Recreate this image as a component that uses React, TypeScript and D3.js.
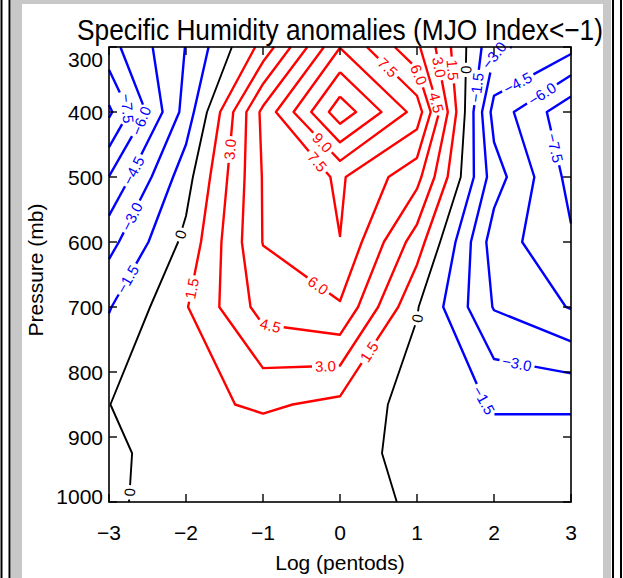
import React, { useMemo } from 'react';
import * as d3 from 'd3';

// ---------------- data ----------------
const xValues = [-3, -2, -1, 0, 1, 2, 3];
const pressureLevels = [300, 400, 500, 600, 700, 850, 925, 1000];
const q300 = [-6.53, -2.95, 2.0, 8.95, 4.8, -2.7, -4.0];
const q400 = [-9.3, -2.4, 6.4, 12.95, 8.4, -5.1, -8.6];
const q500 = [-5.97, -0.6, 6.1, 7.7, 5.0, -3.8, -8.0];
const q600 = [-3.5, 0.4, 6.05, 7.48, 2.25, -5.25, -7.3];
const q700 = [-1.6, 1.4, 5.1, 5.85, 0.1, -4.6, -6.1];
const q850 = [-0.02, 1.06, 1.75, 1.1, -0.67, -1.6, -1.55];
const q925 = [-0.3, 0.7, 0.4, 0.9, -0.75, -1.1, -1.3];
const q1000 = [-0.26, 0.74, 0.5, 0.9, -0.32, -1.0, -1.2];
const contourLevels = [-9, -7.5, -6, -4.5, -3, -1.5, 0, 1.5, 3, 4.5, 6, 7.5, 9, 10.5, 12];
const xTicks = [-3, -2, -1, 0, 1, 2, 3];
const yTicks = [300, 400, 500, 600, 700, 800, 900, 1000];
// contour label anchors (level, lag, pressure)
const labelLevels = [-7.5, -6, -4.5, -3, -1.5, 0, 0, 3, 1.5, 9, 7.5, 6, 4.5, 3, 1.5, 7.5, 6, 3, 4.5, 1.5, 0, -1.5, -3, -4.5, -6, -7.5, -3, -1.5, 0];
const labelX = [-2.66, -2.56, -2.7, -2.75, -2.79, -2.17, -2.75, -1.39, -1.95, -0.29, -0.39, -0.29, -0.9, -0.19, 0.48, 0.69, 1.04, 1.29, 1.27, 1.5, 1.58, 1.75, 1.95, 2.23, 2.53, 2.69, 2.3, 1.88, 0.97];
const labelP = [389, 415, 489, 558, 655, 585, 985, 458, 671, 454, 486, 668, 725, 788, 777, 323, 342, 331, 385, 335, 335, 362, 309, 338, 355, 458, 786, 843, 717];

const TITLE = 'Specific Humidity anomalies (MJO Index<\u22121)';
const FONT = '"Liberation Sans", Arial, sans-serif';

type Pt = [number, number];

function marching(grid: number[][], level: number): Pt[][] {
  const nx = xValues.length, ny = pressureLevels.length;
  const pts = new Map<string, Pt>();
  const segs: [string, string][] = [];
  const adj = new Map<string, number[]>();
  const above = (v: number) => v >= level;
  const addSeg = (a: string, b: string) => {
    const id = segs.length;
    segs.push([a, b]);
    if (!adj.has(a)) adj.set(a, []);
    if (!adj.has(b)) adj.set(b, []);
    adj.get(a)!.push(id);
    adj.get(b)!.push(id);
  };
  for (let j = 0; j < ny - 1; j++) {
    for (let i = 0; i < nx - 1; i++) {
      const edges: string[] = [];
      const check = (key: string, i1: number, j1: number, i2: number, j2: number) => {
        const v1 = grid[j1][i1], v2 = grid[j2][i2];
        if (above(v1) !== above(v2)) {
          if (!pts.has(key)) {
            const t = (level - v1) / (v2 - v1);
            pts.set(key, [
              xValues[i1] + t * (xValues[i2] - xValues[i1]),
              pressureLevels[j1] + t * (pressureLevels[j2] - pressureLevels[j1]),
            ]);
          }
          edges.push(key);
        }
      };
      check(`h${i},${j}`, i, j, i + 1, j);
      check(`v${i + 1},${j}`, i + 1, j, i + 1, j + 1);
      check(`h${i},${j + 1}`, i, j + 1, i + 1, j + 1);
      check(`v${i},${j}`, i, j, i, j + 1);
      if (edges.length === 2) addSeg(edges[0], edges[1]);
      else if (edges.length === 4) {
        const va = grid[j][i], vb = grid[j][i + 1], vc = grid[j + 1][i + 1], vd = grid[j + 1][i];
        const c = (va + vb + vc + vd) / 4;
        if (above(c) === above(va)) {
          addSeg(edges[0], edges[1]);
          addSeg(edges[2], edges[3]);
        } else {
          addSeg(edges[0], edges[3]);
          addSeg(edges[1], edges[2]);
        }
      }
    }
  }
  const used = segs.map(() => false);
  const walk = (start: string) => {
    const keys = [start];
    let cur = start;
    for (;;) {
      const s = (adj.get(cur) || []).find((id) => !used[id]);
      if (s === undefined) break;
      used[s] = true;
      const [a, b] = segs[s];
      cur = a === cur ? b : a;
      keys.push(cur);
    }
    return keys;
  };
  const lines: Pt[][] = [];
  adj.forEach((ids, key) => {
    if (ids.length === 1 && !used[ids[0]]) lines.push(walk(key).map((k) => pts.get(k)!));
  });
  segs.forEach((s, id) => {
    if (!used[id]) lines.push(walk(s[0]).map((k) => pts.get(k)!));
  });
  return lines;
}

function cumLen(poly: Pt[]) {
  const c = [0];
  for (let k = 1; k < poly.length; k++) {
    c.push(c[k - 1] + Math.hypot(poly[k][0] - poly[k - 1][0], poly[k][1] - poly[k - 1][1]));
  }
  return c;
}
function pointAt(poly: Pt[], cum: number[], s: number): Pt {
  if (s <= 0) return poly[0];
  for (let k = 1; k < poly.length; k++) {
    if (cum[k] >= s) {
      const L = cum[k] - cum[k - 1] || 1;
      const t = (s - cum[k - 1]) / L;
      return [poly[k - 1][0] + t * (poly[k][0] - poly[k - 1][0]), poly[k - 1][1] + t * (poly[k][1] - poly[k - 1][1])];
    }
  }
  return poly[poly.length - 1];
}
function subPoly(poly: Pt[], cum: number[], a: number, b: number): Pt[] {
  const out: Pt[] = [pointAt(poly, cum, a)];
  for (let k = 0; k < poly.length; k++) if (cum[k] > a && cum[k] < b) out.push(poly[k]);
  out.push(pointAt(poly, cum, b));
  return out;
}
function textWidth(t: string, fs: number) {
  let w = 0;
  for (const ch of t) w += ch === '.' ? 0.278 : ch === '\u2212' ? 0.584 : 0.556;
  return w * fs;
}
const fmt = (v: number) => (v === 0 ? '0' : (v < 0 ? '\u2212' : '') + Math.abs(v).toFixed(1));

export default function App() {
  const W = 623, H = 578;
  const x = d3.scaleLinear().domain([-3, 3]).range([109, 571]);
  const y = d3.scaleLinear().domain([300, 1000]).range([47, 502]);
  const grid = [q300, q400, q500, q600, q700, q850, q925, q1000];
  const LFS = 15;

  const { paths, labels } = useMemo(() => {
    const lineGen = d3.line<Pt>().x((d) => d[0]).y((d) => d[1]);
    const paths: { d: string; color: string; w: number }[] = [];
    const labels: { x: number; y: number; a: number; t: string; color: string }[] = [];
    contourLevels.forEach((lv) => {
      const color = lv < 0 ? '#0000ff' : lv > 0 ? '#ff0000' : '#000000';
      const polys = marching(grid, lv).map((pl) => pl.map((p) => [x(p[0]), y(p[1])] as Pt));
      const cums = polys.map(cumLen);
      const gaps: [number, number][][] = polys.map(() => []);
      labelLevels.forEach((ll, li) => {
        if (ll !== lv) return;
        const ax = x(labelX[li]), ay = y(labelP[li]);
        let best = { d: Infinity, pi: -1, s: 0 };
        polys.forEach((pl, pi) => {
          for (let k = 1; k < pl.length; k++) {
            const [x0, y0] = pl[k - 1], [x1, y1] = pl[k];
            const dx = x1 - x0, dy = y1 - y0;
            const L2 = dx * dx + dy * dy || 1;
            let t = ((ax - x0) * dx + (ay - y0) * dy) / L2;
            t = Math.max(0, Math.min(1, t));
            const px = x0 + t * dx, py = y0 + t * dy;
            const dd = Math.hypot(px - ax, py - ay);
            if (dd < best.d) best = { d: dd, pi, s: cums[pi][k - 1] + t * Math.sqrt(L2) };
          }
        });
        if (best.pi < 0) return;
        const pl = polys[best.pi], cum = cums[best.pi];
        const txt = fmt(lv);
        const w = textWidth(txt, LFS);
        const total = cum[cum.length - 1];
        const s = Math.max(w / 2 + 1, Math.min(total - w / 2 - 1, best.s));
        const p0 = pointAt(pl, cum, s - w / 2), p1 = pointAt(pl, cum, s + w / 2);
        const c = pointAt(pl, cum, s);
        let ang = (Math.atan2(p1[1] - p0[1], p1[0] - p0[0]) * 180) / Math.PI;
        if (ang > 90) ang -= 180;
        if (ang < -90) ang += 180;
        gaps[best.pi].push([s - w / 2 - 3, s + w / 2 + 3]);
        labels.push({ x: c[0], y: c[1], a: ang, t: txt, color });
      });
      polys.forEach((pl, pi) => {
        const cum = cums[pi];
        const total = cum[cum.length - 1];
        const g = gaps[pi].sort((a, b) => a[0] - b[0]);
        let start = 0;
        const pieces: Pt[][] = [];
        g.forEach(([a, b]) => {
          if (a > start) pieces.push(subPoly(pl, cum, start, a));
          start = Math.max(start, b);
        });
        if (start < total) pieces.push(subPoly(pl, cum, start, total));
        pieces.forEach((pc) => paths.push({ d: lineGen(pc) || '', color, w: lv === 0 ? 1.9 : 2.4 }));
      });
    });
    return { paths, labels };
  }, []);

  const x0 = x(-3), x1 = x(3), y0 = y(300), y1 = y(1000);
  return (
    <svg width={W} height={H} style={{ position: 'absolute', left: 0, top: 0 }} fontFamily={FONT}>
      <rect x={0} y={0} width={W} height={H} fill="#ffffff" />
      <rect x={11} y={0} width={600} height={H} fill="#c8c8c8" />
      <rect x={22} y={4} width={581} height={H - 4} fill="#ffffff" />
      <rect x={0.5} y={0} width={2} height={H} fill="#000" />
      <rect x={8.5} y={0} width={2} height={H} fill="#000" />
      <rect x={612} y={0} width={2} height={H} fill="#000" />
      <rect x={620} y={0} width={2} height={H} fill="#000" />

      <text transform="translate(340,40) scale(1,1.13)" x={0} y={0} fontSize={26.3} textAnchor="middle" fill="#000">
        {TITLE}
      </text>

      <g fill="none" strokeLinejoin="round" strokeLinecap="butt">
        {paths.map((p, i) => (
          <path key={i} d={p.d} stroke={p.color} strokeWidth={p.w} />
        ))}
      </g>
      <g fontSize={LFS}>
        {labels.map((l, i) => (
          <text key={i} x={0} y={0} transform={`translate(${l.x},${l.y}) rotate(${l.a})`} textAnchor="middle" dominantBaseline="central" fill={l.color}>
            {l.t}
          </text>
        ))}
      </g>

      <rect x={x0} y={y0} width={x1 - x0} height={y1 - y0} fill="none" stroke="#000" strokeWidth={1.6} />
      {xTicks.map((t) => (
        <g key={'xt' + t} stroke="#000" strokeWidth={1.4}>
          <line x1={x(t)} x2={x(t)} y1={y1} y2={y1 - 8} />
          <line x1={x(t)} x2={x(t)} y1={y0} y2={y0 + 8} />
        </g>
      ))}
      {yTicks.map((t) => (
        <g key={'yt' + t} stroke="#000" strokeWidth={1.4}>
          <line x1={x0} x2={x0 + 8} y1={y(t)} y2={y(t)} />
          <line x1={x1} x2={x1 - 8} y1={y(t)} y2={y(t)} />
        </g>
      ))}
      {xTicks.map((t) => (
        <text key={'xl' + t} x={x(t)} y={540} fontSize={21} textAnchor="middle" fill="#000">
          {t < 0 ? '\u2212' + Math.abs(t) : String(t)}
        </text>
      ))}
      {yTicks.map((t, i) => (
        <text key={'yl' + t} x={103} y={y(t) + (i === 0 ? 12 : i === yTicks.length - 1 ? -6 : 0)} dy="0.36em" fontSize={21} textAnchor="end" fill="#000">
          {t}
        </text>
      ))}
      <text x={340} y={570} fontSize={21} textAnchor="middle" fill="#000">
        Log (pentods)
      </text>
      <text transform="translate(43,270) rotate(-90)" fontSize={21} textAnchor="middle" fill="#000">
        Pressure (mb)
      </text>
    </svg>
  );
}
